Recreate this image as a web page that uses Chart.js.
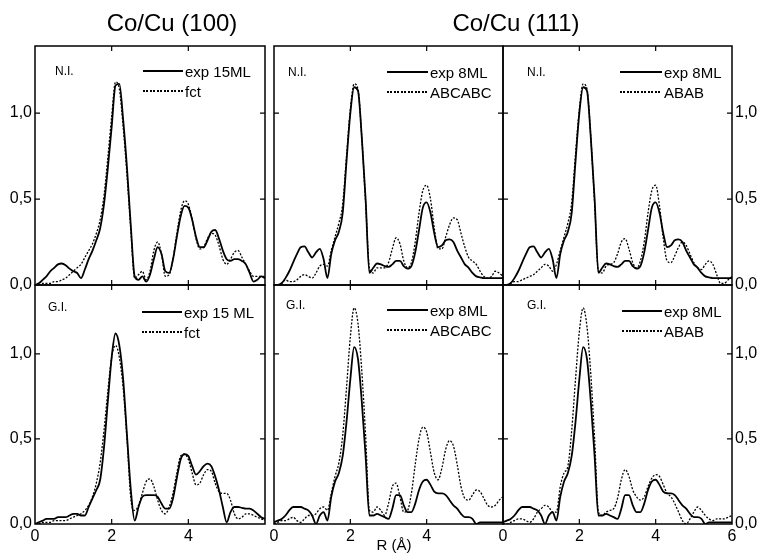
<!DOCTYPE html>
<html><head><meta charset="utf-8">
<script src="https://cdn.jsdelivr.net/npm/chart.js@4.4.1/dist/chart.umd.min.js"></script>
<style>
html,body{margin:0;padding:0;background:#fff;}
#wrap{position:relative;width:759px;height:553px;overflow:hidden;font-family:"Liberation Sans",Arial,sans-serif;color:#000;}
canvas{position:absolute;left:0;top:0;}
.t{position:absolute;white-space:nowrap;line-height:1;}
.ls{position:absolute;height:1.8px;background:#000;}
.ld{position:absolute;height:1.3px;background:repeating-linear-gradient(90deg,#000 0 2px,transparent 2px 3.5px);}
</style></head><body><div id="wrap"></div>
<script>
// ---------- data ----------
const R = [0.0,0.1,0.2,0.3,0.4,0.5,0.6,0.7,0.8,0.9,1.0,1.1,1.2,1.3,1.4,1.5,1.6,1.7,1.8,1.9,2.0,2.1,2.2,2.3,2.4,2.5,2.6,2.7,2.8,2.9,3.0,3.1,3.2,3.3,3.4,3.5,3.6,3.7,3.8,3.9,4.0,4.1,4.2,4.3,4.4,4.5,4.6,4.7,4.8,4.9,5.0,5.1,5.2,5.3,5.4,5.5,5.6,5.7,5.8,5.9,6.0];
const xTicks = [0, 2, 4, 6];
const yTicks = [0.0, 0.5, 1.0];

// Co/Cu(100) N.I.
const exp15ML_NI = [0.00,0.01,0.03,0.05,0.08,0.10,0.12,0.125,0.115,0.095,0.08,0.07,0.04,0.09,0.15,0.20,0.26,0.33,0.47,0.68,0.92,1.16,1.17,0.96,0.68,0.34,0.05,0.03,0.05,0.02,0.06,0.15,0.22,0.18,0.08,0.07,0.15,0.28,0.40,0.46,0.45,0.38,0.28,0.22,0.22,0.26,0.31,0.32,0.27,0.20,0.15,0.14,0.15,0.15,0.14,0.12,0.07,0.02,0.03,0.05,0.04];
const fct_NI = [0.00,0.00,0.01,0.01,0.01,0.02,0.02,0.03,0.04,0.06,0.08,0.10,0.12,0.16,0.20,0.24,0.30,0.38,0.52,0.74,0.98,1.18,1.14,0.92,0.64,0.32,0.04,0.06,0.08,0.03,0.08,0.20,0.25,0.18,0.05,0.06,0.15,0.30,0.43,0.49,0.47,0.38,0.27,0.21,0.22,0.27,0.30,0.29,0.23,0.15,0.12,0.15,0.19,0.20,0.16,0.12,0.08,0.05,0.05,0.05,0.05];
// Co/Cu(111) N.I.
const exp8ML_NI = [0.00,0.00,0.01,0.04,0.08,0.13,0.18,0.22,0.225,0.19,0.16,0.19,0.21,0.15,0.04,0.18,0.26,0.31,0.42,0.72,1.00,1.15,1.13,0.86,0.50,0.07,0.10,0.125,0.12,0.11,0.105,0.12,0.14,0.14,0.11,0.095,0.11,0.19,0.32,0.45,0.48,0.42,0.30,0.22,0.23,0.26,0.265,0.25,0.20,0.16,0.12,0.10,0.07,0.05,0.045,0.04,0.04,0.04,0.04,0.04,0.04];
const ABCABC_NI = [0.00,0.00,0.01,0.03,0.02,0.02,0.03,0.05,0.06,0.05,0.04,0.07,0.11,0.12,0.11,0.20,0.28,0.36,0.47,0.75,1.02,1.17,1.14,0.86,0.48,0.10,0.07,0.10,0.10,0.10,0.13,0.21,0.275,0.24,0.14,0.10,0.13,0.25,0.42,0.55,0.58,0.50,0.33,0.21,0.21,0.28,0.35,0.39,0.38,0.30,0.22,0.16,0.14,0.12,0.08,0.05,0.04,0.05,0.08,0.07,0.05];
const ABAB_NI = [0.00,0.00,0.01,0.02,0.02,0.03,0.04,0.05,0.06,0.08,0.10,0.12,0.11,0.08,0.12,0.20,0.28,0.36,0.48,0.76,1.02,1.17,1.14,0.86,0.48,0.08,0.07,0.11,0.12,0.13,0.18,0.25,0.27,0.21,0.13,0.10,0.14,0.25,0.42,0.55,0.58,0.46,0.27,0.14,0.13,0.17,0.22,0.25,0.23,0.18,0.13,0.10,0.09,0.12,0.14,0.12,0.06,0.01,0.01,0.03,0.05];
// Co/Cu(100) G.I.
const exp15ML_GI = [0.00,0.01,0.02,0.03,0.03,0.03,0.04,0.04,0.04,0.05,0.06,0.06,0.05,0.05,0.10,0.15,0.20,0.26,0.45,0.72,0.98,1.12,1.05,0.85,0.52,0.20,0.02,0.10,0.16,0.17,0.17,0.17,0.16,0.12,0.09,0.09,0.15,0.27,0.38,0.41,0.40,0.34,0.29,0.31,0.34,0.355,0.34,0.28,0.20,0.10,0.01,0.07,0.10,0.10,0.095,0.09,0.09,0.08,0.06,0.04,0.03];
const fct_GI = [0.00,0.00,0.01,0.01,0.01,0.02,0.02,0.02,0.02,0.03,0.04,0.05,0.06,0.08,0.11,0.16,0.24,0.36,0.55,0.78,0.98,1.05,0.98,0.80,0.50,0.15,0.08,0.11,0.18,0.25,0.265,0.22,0.14,0.08,0.06,0.10,0.18,0.30,0.40,0.41,0.38,0.30,0.23,0.24,0.29,0.32,0.31,0.24,0.19,0.18,0.18,0.14,0.06,0.03,0.04,0.06,0.06,0.05,0.04,0.03,0.02];
// Co/Cu(111) G.I.
const exp8ML_GI = [0.01,0.02,0.03,0.05,0.08,0.10,0.10,0.10,0.09,0.08,0.05,0.00,0.05,0.07,0.02,0.16,0.25,0.30,0.40,0.60,0.85,1.04,0.97,0.72,0.40,0.05,0.05,0.06,0.05,0.04,0.03,0.09,0.17,0.17,0.11,0.07,0.07,0.12,0.20,0.25,0.26,0.23,0.19,0.18,0.18,0.17,0.14,0.11,0.09,0.06,0.04,0.04,0.03,0.00,0.01,0.01,0.01,0.01,0.01,0.01,0.01];
const ABCABC_GI = [0.00,0.01,0.02,0.02,0.03,0.04,0.02,0.01,0.03,0.05,0.05,0.06,0.09,0.10,0.08,0.18,0.28,0.36,0.52,0.80,1.10,1.27,1.18,0.90,0.52,0.08,0.07,0.10,0.08,0.05,0.12,0.22,0.24,0.16,0.07,0.08,0.18,0.35,0.50,0.57,0.54,0.42,0.30,0.26,0.33,0.44,0.49,0.46,0.35,0.22,0.15,0.14,0.17,0.20,0.19,0.15,0.11,0.10,0.11,0.14,0.16];
const ABAB_GI = [0.00,0.00,0.01,0.02,0.03,0.03,0.02,0.01,0.03,0.07,0.09,0.11,0.10,0.07,0.07,0.22,0.30,0.34,0.55,0.85,1.13,1.27,1.16,0.88,0.50,0.07,0.05,0.07,0.08,0.09,0.15,0.26,0.32,0.28,0.20,0.16,0.14,0.16,0.22,0.27,0.29,0.28,0.23,0.18,0.16,0.12,0.07,0.02,0.00,0.03,0.07,0.10,0.08,0.05,0.03,0.02,0.03,0.03,0.03,0.04,0.05];

// ---------- layout ----------
const W = 759, H = 553;
const FONT = '"Liberation Sans", Arial, sans-serif';
const panels = [
  {box:[35,265,46,285],  ymax:1.39,  solid:exp15ML_NI, dot:fct_NI,    yPos:'left',  yLab:true,  xLab:false, l1:'exp 15ML',  l2:'fct',    tag:'N.I.', tagX:55,  tagY:71,  lgX:143, lgW:40, lgY:71},
  {box:[274,503,46,285], ymax:1.39,  solid:exp8ML_NI,  dot:ABCABC_NI, yPos:'left',  yLab:false, xLab:false, l1:'exp 8ML',   l2:'ABCABC', tag:'N.I.', tagX:288, tagY:72,  lgX:387, lgW:41, lgY:72},
  {box:[503,732,46,285], ymax:1.39,  solid:exp8ML_NI,  dot:ABAB_NI,   yPos:'right', yLab:true,  xLab:false, l1:'exp 8ML',   l2:'ABAB',   tag:'N.I.', tagX:527, tagY:72,  lgX:620, lgW:42, lgY:72},
  {box:[35,265,285,524], ymax:1.405, solid:exp15ML_GI, dot:fct_GI,    yPos:'left',  yLab:true,  xLab:true,  l1:'exp 15 ML', l2:'fct',    tag:'G.I.', tagX:48,  tagY:307, lgX:142, lgW:40, lgY:312},
  {box:[274,503,285,524],ymax:1.405, solid:exp8ML_GI,  dot:ABCABC_GI, yPos:'left',  yLab:false, xLab:true,  l1:'exp 8ML',   l2:'ABCABC', tag:'G.I.', tagX:286, tagY:305, lgX:387, lgW:41, lgY:310},
  {box:[503,732,285,524],ymax:1.405, solid:exp8ML_GI,  dot:ABAB_GI,   yPos:'right', yLab:true,  xLab:true,  l1:'exp 8ML',   l2:'ABAB',   tag:'G.I.', tagX:527, tagY:305, lgX:622, lgW:40, lgY:311, last:true}
];

const wrap = document.getElementById('wrap');
function addText(txt, x, y, size, align, extra) {
  const d = document.createElement('div');
  d.className = 't';
  d.textContent = txt;
  d.style.left = x + 'px';
  d.style.top = y + 'px';
  d.style.fontSize = size + 'px';
  d.style.transform = align === 'center' ? 'translate(-50%,-50%)' : 'translate(0,-50%)';
  if (extra) Object.assign(d.style, extra);
  wrap.appendChild(d);
}
function addSample(cls, x, y, w) {
  const d = document.createElement('div');
  d.className = cls;
  d.style.left = x + 'px';
  d.style.top = (y - 0.7) + 'px';
  d.style.width = w + 'px';
  wrap.appendChild(d);
}

const framePlugin = {
  id: 'frame',
  afterDatasetsDraw(chart) {
    const {ctx, chartArea: a, scales} = chart;
    ctx.save();
    ctx.strokeStyle = '#000';
    ctx.lineWidth = 1.5;
    ctx.strokeRect(a.left, a.top, a.right - a.left, a.bottom - a.top);
    ctx.lineWidth = 1.2;
    const tl = 5;
    ctx.beginPath();
    scales.x.ticks.forEach(t => {
      if (t.value <= scales.x.min || t.value >= scales.x.max) return;
      const px = scales.x.getPixelForValue(t.value);
      ctx.moveTo(px, a.bottom); ctx.lineTo(px, a.bottom - tl);
      ctx.moveTo(px, a.top); ctx.lineTo(px, a.top + tl);
    });
    scales.y.ticks.forEach(t => {
      if (t.value <= scales.y.min || t.value >= scales.y.max) return;
      const py = scales.y.getPixelForValue(t.value);
      ctx.moveTo(a.left, py); ctx.lineTo(a.left + tl, py);
      ctx.moveTo(a.right, py); ctx.lineTo(a.right - tl, py);
    });
    ctx.stroke();
    ctx.restore();
  }
};

const YW_LEFT = 35, YW_RIGHT = 27, XH = 22;

panels.forEach(p => {
  const cv = document.createElement('canvas');
  cv.width = W; cv.height = H;
  cv.style.width = W + 'px'; cv.style.height = H + 'px';
  wrap.appendChild(cv);
  const [L, Rr, T, B] = p.box;
  const yw = p.yPos === 'left' ? YW_LEFT : YW_RIGHT;
  const padL = p.yPos === 'left' ? L - yw : L;
  const padR = p.yPos === 'right' ? W - Rr - yw : W - Rr;
  const xh = p.xLab ? XH : 0;
  new Chart(cv, {
    type: 'line',
    data: {
      datasets: [
        {label: p.l1, data: R.map((r, i) => ({x: r, y: p.solid[i]})), borderColor: '#000', borderWidth: 1.8, pointRadius: 0, tension: 0.4, cubicInterpolationMode: 'monotone', fill: false},
        {label: p.l2, data: R.map((r, i) => ({x: r, y: p.dot[i]})), borderColor: '#000', borderWidth: 1.3, borderDash: [2, 1.6], pointRadius: 0, tension: 0.4, cubicInterpolationMode: 'monotone', fill: false}
      ]
    },
    options: {
      responsive: false,
      animation: false,
      events: [],
      layout: {padding: {left: padL, right: padR, top: T, bottom: H - B - xh}},
      plugins: {legend: {display: false}, tooltip: {enabled: false}},
      scales: {
        x: {
          type: 'linear', min: 0, max: 6, position: 'bottom',
          afterBuildTicks: s => { s.ticks = xTicks.map(v => ({value: v})); },
          afterFit: s => { s.height = xh; },
          grid: {display: false, drawTicks: false},
          border: {display: false},
          ticks: {
            display: p.xLab, padding: 3, maxRotation: 0, autoSkip: false,
            font: {family: FONT, size: 16}, color: '#000',
            callback: v => (v === 6 && !p.last) ? '' : String(v)
          }
        },
        y: {
          type: 'linear', min: 0, max: p.ymax, position: p.yPos,
          afterBuildTicks: s => { s.ticks = yTicks.map(v => ({value: v})); },
          afterFit: s => { s.width = yw; },
          grid: {display: false, drawTicks: false},
          border: {display: false},
          ticks: {
            display: p.yLab, padding: 3, autoSkip: false,
            font: {family: FONT, size: 16}, color: '#000',
            callback: v => v.toFixed(1).replace('.', ',')
          }
        }
      }
    },
    plugins: [framePlugin]
  });
  addText(p.tag, p.tagX, p.tagY, 12, 'left');
  addSample('ls', p.lgX, p.lgY, p.lgW);
  addSample('ld', p.lgX, p.lgY + 20, p.lgW);
  addText(p.l1, p.lgX + p.lgW + 2, p.lgY, 15, 'left');
  addText(p.l2, p.lgX + p.lgW + 2, p.lgY + 20, 15, 'left');
});

addText('Co/Cu (100)', 172, 23, 24, 'center');
addText('Co/Cu (111)', 516, 23, 24, 'center');
addText('R (\u00C5)', 394, 544, 15, 'center');
</script></body></html>
